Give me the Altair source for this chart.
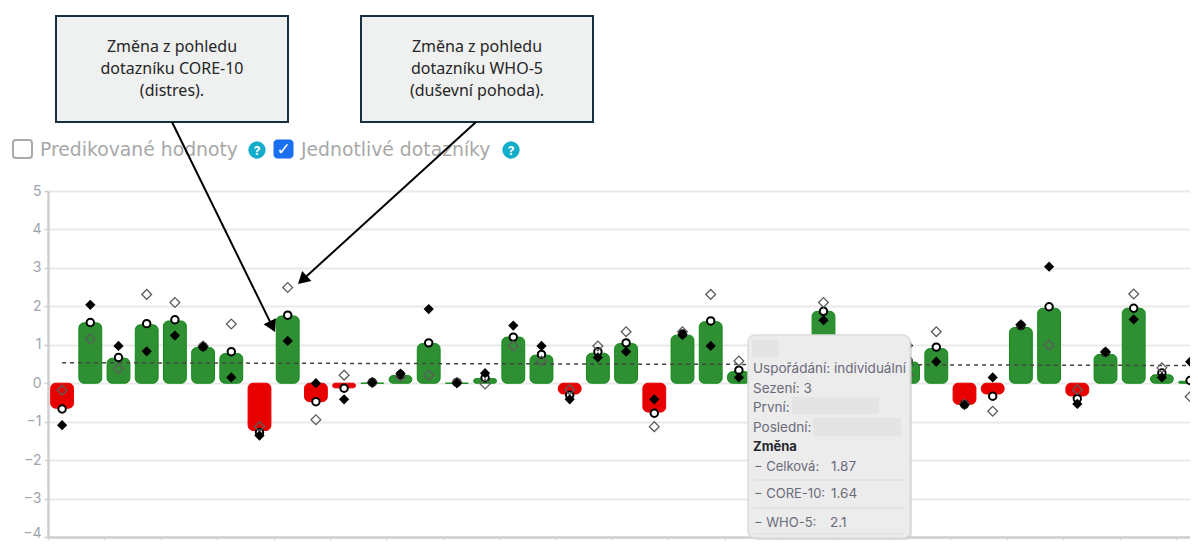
import altair as alt
import pandas as pd

# Session indices visible in the picture (the tooltip hides 25, 26, 28, 29)
sessions = [0,1,2,3,4,5,6,7,8,9,10,11,12,13,14,15,16,17,18,19,20,21,22,23,24,27,30,31,32,33,34,35,36,37,38,39,40]
total = [-0.65,1.57,0.65,1.52,1.62,0.93,0.77,-1.23,1.75,-0.48,-0.12,0.0,0.2,1.03,0.0,0.12,1.2,0.73,-0.28,0.78,1.03,-0.75,1.25,1.6,0.3,1.87,0.55,0.9,-0.55,-0.28,1.45,1.95,-0.33,0.75,1.95,0.22,0.05]
circle = [-0.67,1.58,0.67,1.55,1.65,0.95,0.82,-1.28,1.77,-0.48,-0.13,0.02,0.22,1.05,0.02,0.14,1.2,0.75,-0.31,0.82,1.05,-0.78,1.28,1.62,0.34,1.87,0.59,0.94,-0.55,-0.34,1.5,1.99,-0.4,0.8,1.95,0.27,0.07]
who5 = [-0.18,1.15,0.38,2.31,2.10,0.97,1.54,-1.13,2.49,-0.95,0.21,0.02,0.17,0.21,0.02,-0.02,0.97,0.58,-0.17,0.97,1.34,-1.13,1.34,2.31,0.58,2.1,0.21,1.34,-0.55,-0.73,1.52,0.99,-0.17,0.81,2.32,0.40,-0.35]
core10 = [-1.09,2.04,0.97,0.83,1.24,0.95,0.15,-1.36,1.10,0.0,-0.42,0.02,0.25,1.93,0.0,0.26,1.5,0.97,-0.42,0.67,0.82,-0.42,1.26,0.97,0.15,1.64,0.98,0.56,-0.56,0.15,1.52,3.03,-0.54,0.81,1.66,0.15,0.56]
mean_x = [0.5, 40.5]
mean_y = [0.535, 0.46]
y_ticks = [-4,-3,-2,-1,0,1,2,3,4,5]
x_ticks = list(range(0, 41, 2))

df = pd.DataFrame({
    "s": sessions, "total": total, "circle": circle, "who5": who5, "core10": core10,
})
df["x1"] = df["s"] + 0.095
df["x2"] = df["s"] + 0.905
df["xc"] = df["s"] + 0.5
df["zero"] = 0
df["sign"] = ["pos" if v >= 0 else "neg" for v in df["total"]]
mean_df = pd.DataFrame({"x": mean_x, "y": mean_y})

OX, OY = 48, 191
W, H = 1142, 346
xs = alt.Scale(domain=[0, W / 28.2], nice=False, zero=False)
ys = alt.Scale(domain=[-4, 5], nice=False, zero=False)
ONE = alt.Data(values=[{"a": 1}])

x_axis = alt.Axis(values=x_ticks, labels=False, grid=False, tickSize=4, tickColor="#cfcfcf",
                  tickWidth=1.5, domainColor="#cfcfcf", domainWidth=2.5, title=None)
y_axis = alt.Axis(values=y_ticks, format="d", grid=True, gridColor="#e9e9e9", gridWidth=2,
                  tickSize=4, tickColor="#cfcfcf", tickWidth=1.5, domainColor="#cfcfcf",
                  domainWidth=2.5, labelColor="#9ea5b0", labelFont="Inter", labelFontSize=14,
                  labelPadding=3, title=None,
                  labelOffset=alt.expr("datum.value === -4 ? -4 : 0"))


def X(f):
    return alt.X(f, scale=xs, axis=x_axis)


def Y(f):
    return alt.Y(f, scale=ys, axis=y_axis)


def rect(x0, y0, x1, y1, **kw):
    return alt.Chart(ONE).mark_rect(**kw).encode(
        x=alt.value(x0 - OX), x2=alt.value(x1 - OX),
        y=alt.value(y0 - OY), y2=alt.value(y1 - OY))


def seg(x0, y0, x1, y1, **kw):
    return alt.Chart(ONE).mark_rule(**kw).encode(
        x=alt.value(x0 - OX), x2=alt.value(x1 - OX),
        y=alt.value(y0 - OY), y2=alt.value(y1 - OY))


def label(s, x, y, align="left", **kw):
    return alt.Chart(ONE).mark_text(align=align, baseline="middle", **kw).encode(
        x=alt.value(x - OX), y=alt.value(y - OY), text=alt.value(s))


def pointer(x, y, angle):
    return alt.Chart(ONE).mark_point(shape="triangle-up", filled=True, size=190, opacity=1,
                                     color="#000000", angle=angle).encode(
        x=alt.value(x - OX), y=alt.value(y - OY))


bars = alt.Chart(df).mark_bar(cornerRadius=5, strokeWidth=1).encode(
    x=X("x1:Q"), x2="x2:Q", y=Y("total:Q"), y2="zero:Q",
    color=alt.Color("sign:N", legend=None,
                    scale=alt.Scale(domain=["pos", "neg"], range=["#2e9032", "#e80000"])),
    stroke=alt.Stroke("sign:N", legend=None,
                      scale=alt.Scale(domain=["pos", "neg"], range=["#138a1a", "#e80000"])),
)

mean_line = alt.Chart(mean_df).mark_line(color="#444444", strokeWidth=1.5, strokeDash=[4, 4]).encode(
    x=X("x:Q"), y=Y("y:Q"))

circles = alt.Chart(df).mark_point(shape="circle", filled=True, fill="#ffffff", stroke="#000000",
                                   strokeWidth=2, size=55, opacity=1).encode(
    x=X("xc:Q"), y=Y("circle:Q"))
whites = alt.Chart(df).mark_point(shape="diamond", filled=False, stroke="#5c5c5c",
                                  strokeWidth=1.3, size=95, opacity=1).encode(
    x=X("xc:Q"), y=Y("who5:Q"))
blacks = alt.Chart(df).mark_point(shape="diamond", filled=True, color="#000000",
                                  size=105, opacity=1).encode(
    x=X("xc:Q"), y=Y("core10:Q"))

layers = [bars, mean_line, circles, whites, blacks]

# Tooltip panel
TT = "#6a6b7a"
TF = "Inter"
layers += [
    rect(750, 337, 912, 540, fill="#c9c9c9", opacity=0.6, cornerRadius=7),
    rect(748, 335, 910, 538, fill="#ececec", stroke="#dcdcdc", strokeWidth=1.5, cornerRadius=7),
    rect(752, 340, 779, 357, fill="#e4e4e4"),
    rect(792, 397, 879, 414, fill="#e4e4e4"),
    rect(813, 418, 901, 436, fill="#e4e4e4"),
    label("Uspořádání: individuální", 753, 369, font=TF, fontSize=13.5, color=TT),
    label("Sezení: 3", 753, 389, font=TF, fontSize=13.5, color=TT),
    label("První:", 753, 408, font=TF, fontSize=13.5, color=TT),
    label("Poslední:", 753, 428, font=TF, fontSize=13.5, color=TT),
    label("Změna", 753, 447, font=TF, fontSize=13, fontWeight="bold", color="#26262e"),
    label("− Celková:", 754, 467, font=TF, fontSize=13, color=TT),
    label("1.87", 831, 467, font=TF, fontSize=13.5, color=TT),
    label("− CORE-10:", 754, 494, font=TF, fontSize=13, color=TT),
    label("1.64", 831, 494, font=TF, fontSize=13.5, color=TT),
    label("− WHO-5:", 754, 523, font=TF, fontSize=13, color=TT),
    label("2.1", 830, 523, font=TF, fontSize=13.5, color=TT),
    seg(753, 480, 904, 480, color="#d9d9d9", strokeWidth=1.2),
    seg(753, 508, 904, 508, color="#d9d9d9", strokeWidth=1.2),
    seg(753, 534, 904, 534, color="#d9d9d9", strokeWidth=1.2),
]

# Filter row
GREY = "#a8a8a8"
layers += [
    rect(13, 140, 32, 158, fill="#ffffff", stroke="#a9a9a9", strokeWidth=2, cornerRadius=3),
    label("Predikované hodnoty", 40, 150, font="DejaVu Sans", fontSize=18.8, color=GREY),
    rect(274, 140, 293, 158, fill="#1a6ff0", stroke="#1a6ff0", strokeWidth=1, cornerRadius=3),
    label("✓", 283.5, 149.5, align="center", font="DejaVu Sans", fontSize=17, fontWeight="bold", color="#ffffff"),
    label("Jednotlivé dotazníky", 301, 150, font="DejaVu Sans", fontSize=18.8, color=GREY),
]
for cx in [257, 511]:
    layers += [
        alt.Chart(ONE).mark_point(shape="circle", filled=True, color="#12adc9", size=300, opacity=1).encode(
            x=alt.value(cx - OX), y=alt.value(150 - OY)),
        label("?", cx, 150.5, align="center", font="Inter", fontSize=12, fontWeight="bold", color="#ffffff"),
    ]

# Annotation boxes and arrows
BF = "Noto Sans"
layers += [
    rect(56, 16, 288, 122, fill="#eff0f0", stroke="#16303f", strokeWidth=2),
    rect(361, 16, 593, 122, fill="#eff0f0", stroke="#16303f", strokeWidth=2),
    label("Změna z pohledu", 172, 47, align="center", font=BF, fontSize=16, color="#262626"),
    label("dotazníku CORE-10", 172, 69, align="center", font=BF, fontSize=16, color="#262626"),
    label("(distres).", 172, 91, align="center", font=BF, fontSize=16, color="#262626"),
    label("Změna z pohledu", 477, 47, align="center", font=BF, fontSize=16, color="#262626"),
    label("dotazníku WHO-5", 477, 69, align="center", font=BF, fontSize=16, color="#262626"),
    label("(duševní pohoda).", 477, 91, align="center", font=BF, fontSize=16, color="#262626"),
    seg(172, 122, 272.4, 326.6, color="#000000", strokeWidth=2),
    seg(476, 122, 302.4, 280, color="#000000", strokeWidth=2),
    pointer(272.4, 326.6, 153.9),
    pointer(302.4, 280, 227.7),
]

chart = alt.layer(*layers).properties(
    width=W, height=H,
    padding={"left": OX - 8, "top": OY - 8, "right": 0, "bottom": 3},
    autosize=alt.AutoSizeParams(type="none"),
    background="#ffffff",
).configure_view(stroke=None)

chart.save("out.html", embed_options={"renderer": "svg", "actions": False})
